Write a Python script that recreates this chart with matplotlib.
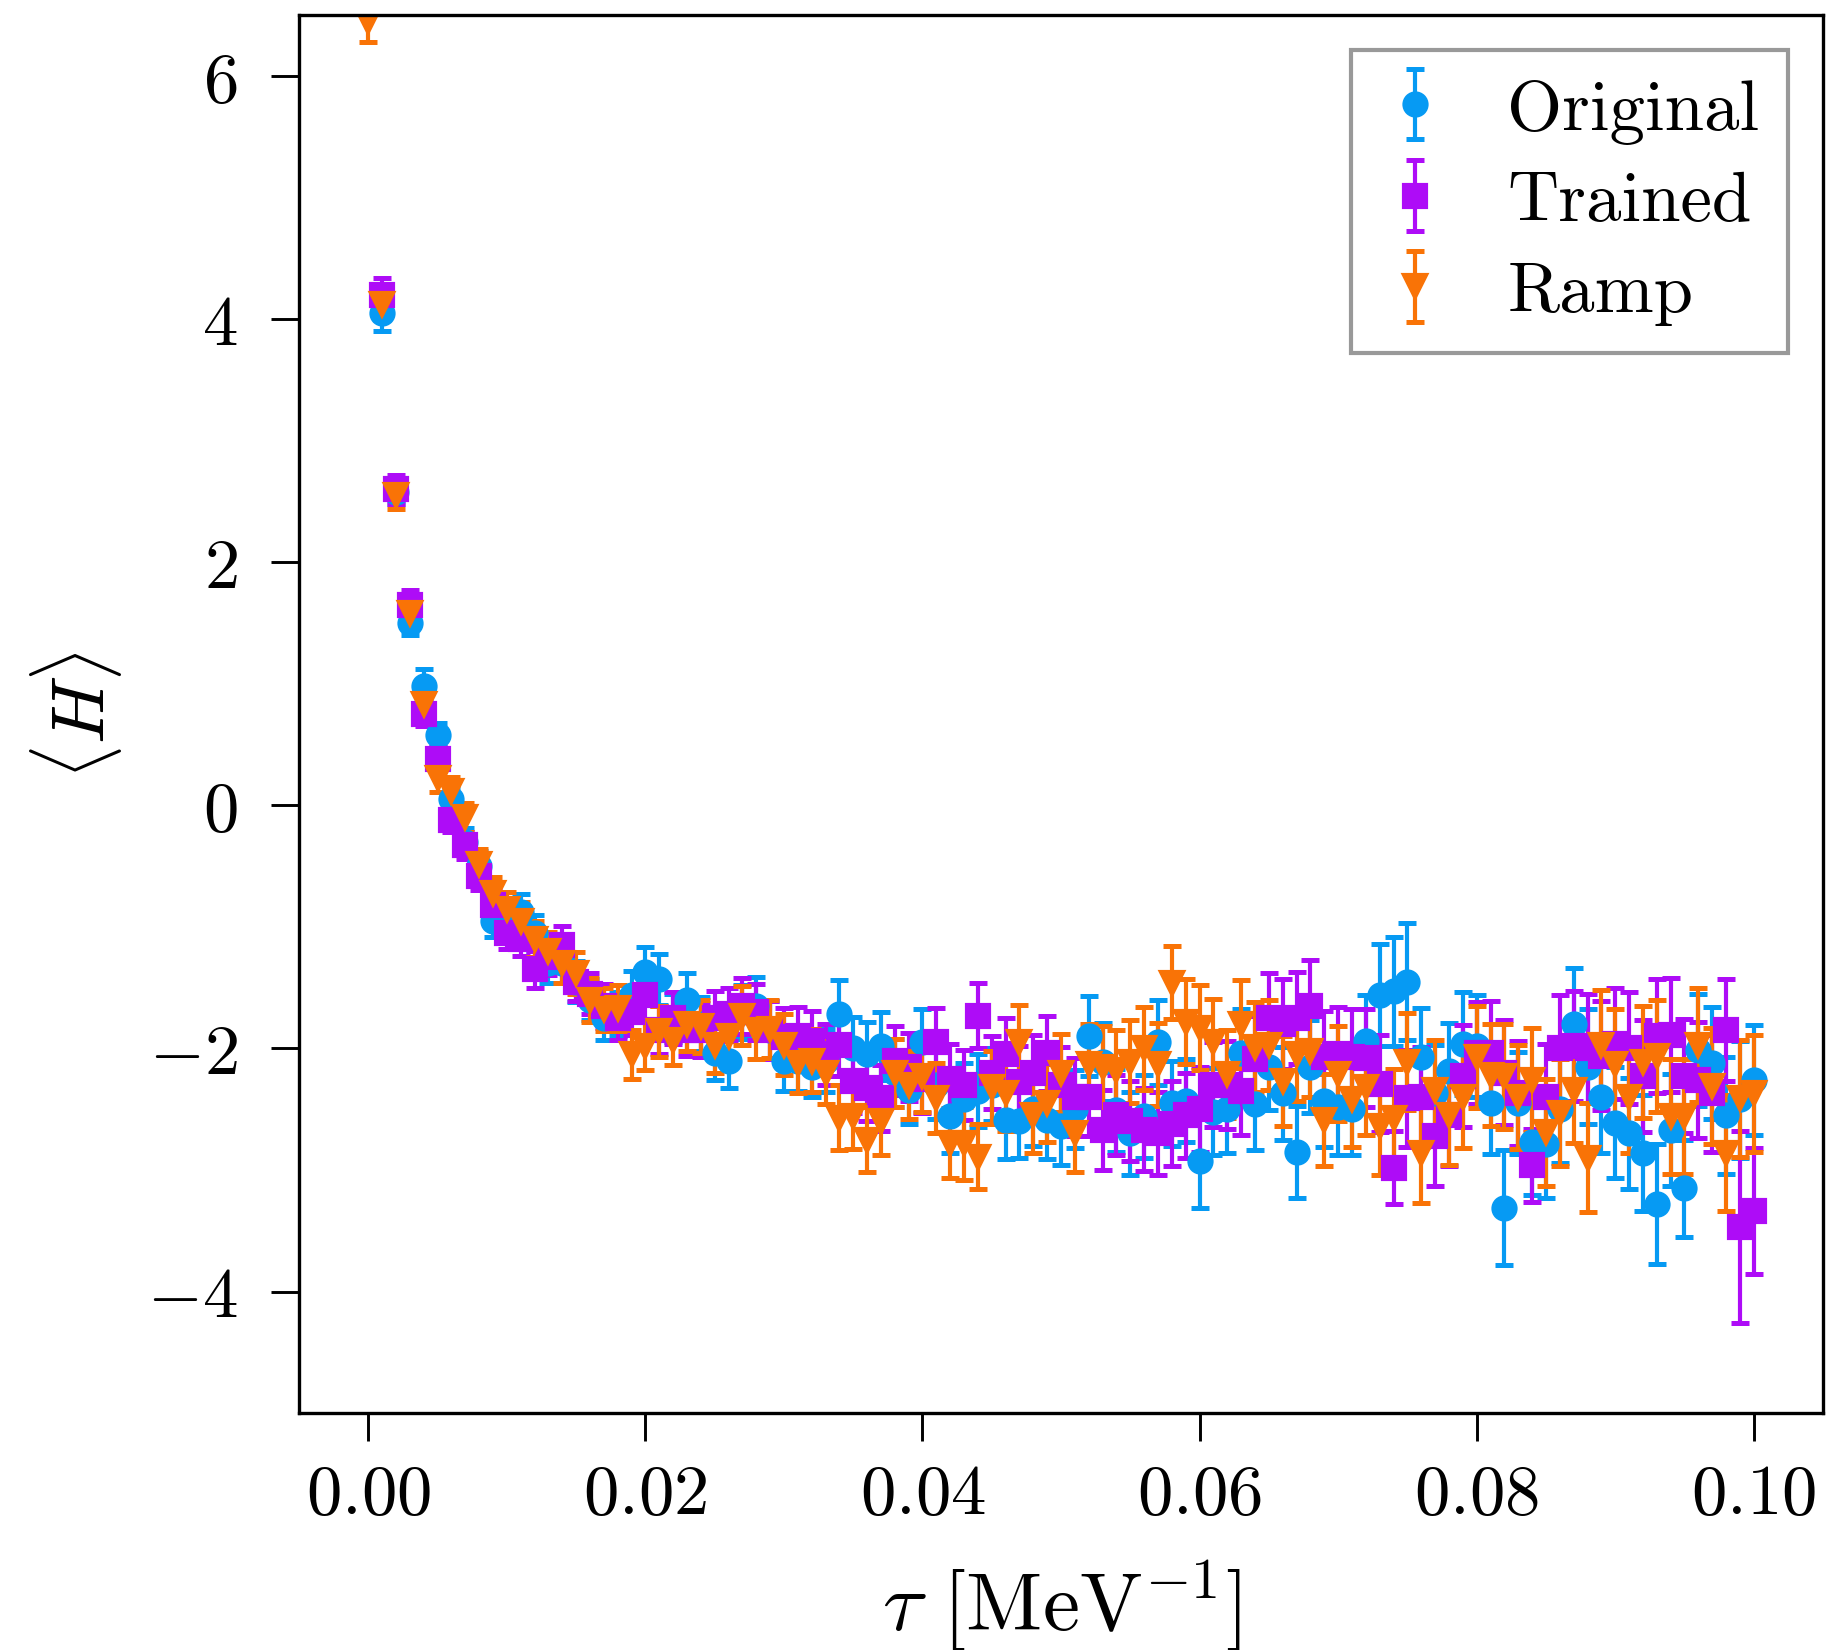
import numpy as np
import matplotlib
matplotlib.use("Agg")
import matplotlib.pyplot as plt

plt.rcParams["font.family"] = "serif"
plt.rcParams["font.serif"] = ["cmr10"]
plt.rcParams["mathtext.fontset"] = "cm"
plt.rcParams["axes.formatter.use_mathtext"] = True
plt.rcParams["axes.unicode_minus"] = True

nan = np.nan

# imaginary time steps [MeV^-1]
tau = np.arange(101) / 1000.0

original = [nan, 4.05, 2.58, 1.50, 0.98, 0.58, 0.05, -0.30, -0.50, -0.95, -0.90,
            -0.88, -1.05, -1.30, -1.30, -1.45, -1.60, -1.75, -1.72, -1.56, -1.37,
            -1.43, -1.75, -1.60, -1.80, -2.04, -2.10, -1.70, -1.65, -1.85, -2.10,
            -2.10, -2.15, -2.10, -1.72, -2.00, -2.05, -1.98, -2.20, -2.34, -1.95,
            -2.30, -2.56, -2.42, -2.35, -2.30, -2.59, -2.60, -2.50, -2.59, -2.64,
            -2.50, -1.90, -2.11, -2.51, -2.70, -2.56, -1.95, -2.45, -2.43, -2.93,
            -2.52, -2.50, -2.04, -2.46, -2.15, -2.37, -2.85, -2.15, -2.43, -2.48,
            -2.50, -1.94, -1.56, -1.53, -1.45, -2.07, -2.37, -2.19, -1.96, -1.98,
            -2.45, -3.31, -2.45, -2.77, -2.79, -2.50, -1.80, -2.15, -2.40, -2.61,
            -2.70, -2.86, -3.28, -2.67, -3.15, -2.01, -2.12, -2.55, -2.42, -2.26]
original_err = [nan, 0.15, 0.10, 0.10, 0.14, 0.10, 0.10, 0.11, 0.12, 0.13, 0.14,
                0.15, 0.15, 0.16, 0.16, 0.17, 0.17, 0.18, 0.18, 0.20, 0.20,
                0.21, 0.20, 0.22, 0.22, 0.22, 0.23, 0.22, 0.24, 0.24, 0.25,
                0.25, 0.25, 0.26, 0.28, 0.26, 0.27, 0.28, 0.28, 0.28, 0.27,
                0.28, 0.30, 0.30, 0.30, 0.30, 0.32, 0.30, 0.30, 0.32, 0.32,
                0.32, 0.33, 0.32, 0.34, 0.34, 0.34, 0.35, 0.35, 0.34, 0.38,
                0.36, 0.36, 0.36, 0.38, 0.36, 0.38, 0.38, 0.38, 0.38, 0.40,
                0.38, 0.38, 0.42, 0.45, 0.48, 0.40, 0.40, 0.40, 0.42, 0.42,
                0.42, 0.47, 0.42, 0.44, 0.44, 0.44, 0.46, 0.47, 0.46, 0.46,
                0.46, 0.48, 0.49, 0.46, 0.40, 0.46, 0.46, 0.48, 0.48, 0.45]

trained = [nan, 4.20, 2.60, 1.65, 0.75, 0.38, -0.12, -0.33, -0.58, -0.82, -1.05,
           -1.10, -1.35, -1.25, -1.15, -1.45, -1.55, -1.65, -1.75, -1.70, -1.56,
           -1.85, -1.75, -1.85, -1.85, -1.75, -1.72, -1.65, -1.70, -1.85, -1.91,
           -1.90, -1.94, -2.05, -1.97, -2.27, -2.33, -2.41, -2.10, -2.15, -2.25,
           -1.95, -2.25, -2.30, -1.73, -2.20, -2.05, -2.28, -2.20, -2.04, -2.30,
           -2.40, -2.40, -2.67, -2.55, -2.60, -2.67, -2.70, -2.62, -2.55, -2.50,
           -2.30, -2.30, -2.35, -2.09, -1.75, -1.80, -1.75, -1.65, -2.07, -2.05,
           -2.07, -2.08, -2.29, -2.98, -2.41, -2.40, -2.72, -2.55, -2.23, -2.04,
           -2.04, -2.20, -2.37, -2.96, -2.40, -2.00, -1.98, -2.00, -2.06, -1.96,
           -2.00, -2.23, -1.90, -1.89, -2.23, -2.26, -2.37, -1.85, -3.47, -3.34]
trained_err = [nan, 0.14, 0.12, 0.12, 0.10, 0.10, 0.10, 0.11, 0.12, 0.12, 0.13,
               0.14, 0.15, 0.15, 0.16, 0.16, 0.17, 0.18, 0.18, 0.19, 0.20,
               0.20, 0.21, 0.21, 0.22, 0.22, 0.22, 0.23, 0.23, 0.24, 0.24,
               0.24, 0.25, 0.25, 0.26, 0.26, 0.27, 0.27, 0.28, 0.28, 0.28,
               0.28, 0.29, 0.29, 0.27, 0.30, 0.30, 0.30, 0.31, 0.31, 0.31,
               0.32, 0.32, 0.33, 0.33, 0.33, 0.34, 0.34, 0.35, 0.35, 0.35,
               0.35, 0.36, 0.36, 0.36, 0.37, 0.37, 0.38, 0.38, 0.38, 0.39,
               0.39, 0.40, 0.40, 0.30, 0.40, 0.41, 0.41, 0.42, 0.42, 0.42,
               0.43, 0.43, 0.43, 0.30, 0.44, 0.44, 0.45, 0.45, 0.45, 0.46,
               0.46, 0.46, 0.47, 0.47, 0.47, 0.48, 0.48, 0.42, 0.79, 0.52]

ramp = [6.45, 4.12, 2.55, 1.58, 0.83, 0.22, 0.12, -0.10, -0.48, -0.72, -0.85,
        -0.95, -1.10, -1.20, -1.30, -1.38, -1.60, -1.68, -1.67, -2.05, -1.98,
        -1.86, -1.93, -1.80, -1.82, -1.97, -1.90, -1.73, -1.85, -1.84, -1.97,
        -2.12, -2.10, -2.20, -2.57, -2.56, -2.75, -2.60, -2.20, -2.30, -2.23,
        -2.41, -2.78, -2.78, -2.89, -2.32, -2.37, -1.95, -2.55, -2.45, -2.20,
        -2.70, -2.13, -2.15, -2.18, -2.11, -2.00, -2.13, -1.46, -1.78, -1.83,
        -1.95, -2.21, -1.80, -1.99, -1.97, -2.27, -2.05, -2.02, -2.59, -2.21,
        -2.42, -2.32, -2.64, -2.57, -2.11, -2.86, -2.34, -2.55, -2.40, -2.07,
        -2.22, -2.23, -2.40, -2.26, -2.69, -2.53, -2.34, -2.90, -1.97, -2.13,
        -2.40, -2.11, -2.06, -2.56, -2.56, -1.97, -2.31, -2.86, -2.41, -2.37]
ramp_err = [0.17, 0.13, 0.11, 0.10, 0.10, 0.11, 0.11, 0.12, 0.12, 0.13, 0.14,
            0.15, 0.15, 0.16, 0.16, 0.17, 0.18, 0.18, 0.19, 0.20, 0.20,
            0.21, 0.21, 0.22, 0.22, 0.23, 0.23, 0.24, 0.24, 0.24, 0.25,
            0.25, 0.26, 0.26, 0.27, 0.27, 0.27, 0.28, 0.28, 0.28, 0.29,
            0.29, 0.29, 0.30, 0.27, 0.30, 0.31, 0.31, 0.31, 0.32, 0.32,
            0.32, 0.33, 0.33, 0.33, 0.34, 0.34, 0.34, 0.30, 0.35, 0.35,
            0.36, 0.36, 0.36, 0.37, 0.37, 0.37, 0.38, 0.38, 0.38, 0.39,
            0.39, 0.39, 0.40, 0.40, 0.40, 0.41, 0.41, 0.41, 0.42, 0.42,
            0.42, 0.43, 0.43, 0.43, 0.44, 0.44, 0.44, 0.45, 0.45, 0.45,
            0.46, 0.46, 0.46, 0.47, 0.47, 0.47, 0.48, 0.48, 0.48, 0.48]

series = [
    ("Original", original, original_err, "o", "#069af3"),
    ("Trained", trained, trained_err, "s", "#ae0cf7"),
    ("Ramp", ramp, ramp_err, "v", "#f97306"),
]

fig = plt.figure(figsize=(6.1, 5.5033), dpi=300)
ax = fig.add_axes([0.1634, 0.1435, 0.8328, 0.8468])

for label, y, err, marker, color in series:
    ax.errorbar(tau, y, yerr=err, fmt=marker, color=color, ms=5.3,
                elinewidth=1.0, capsize=2.1, capthick=1.2, label=label)

ax.set_xlim(-0.005, 0.105)
ax.set_ylim(-5.0, 6.5)
ax.set_xticks([0.00, 0.02, 0.04, 0.06, 0.08, 0.10])
ax.set_yticks([-4, -2, 0, 2, 4, 6])
ax.xaxis.set_major_formatter(matplotlib.ticker.FuncFormatter(lambda v, p: "$%.2f$" % v))
ax.tick_params(labelsize=17, length=6.7, width=0.7)
ax.tick_params(axis="x", pad=5.3)
ax.tick_params(axis="y", pad=8)
ax.set_xlabel(r"$\tau\ [\mathrm{MeV}^{-1}]$", fontsize=20, labelpad=7.5)
ax.set_ylabel(r"$\langle H\rangle$", fontsize=18, labelpad=5.5)

leg = ax.legend(loc="upper right", fontsize=17, fancybox=False, framealpha=1.0,
                edgecolor="#999999", handlelength=1.0, handletextpad=0.8,
                borderpad=0.4, labelspacing=0.38)

fig.savefig("out.png", dpi=300)
